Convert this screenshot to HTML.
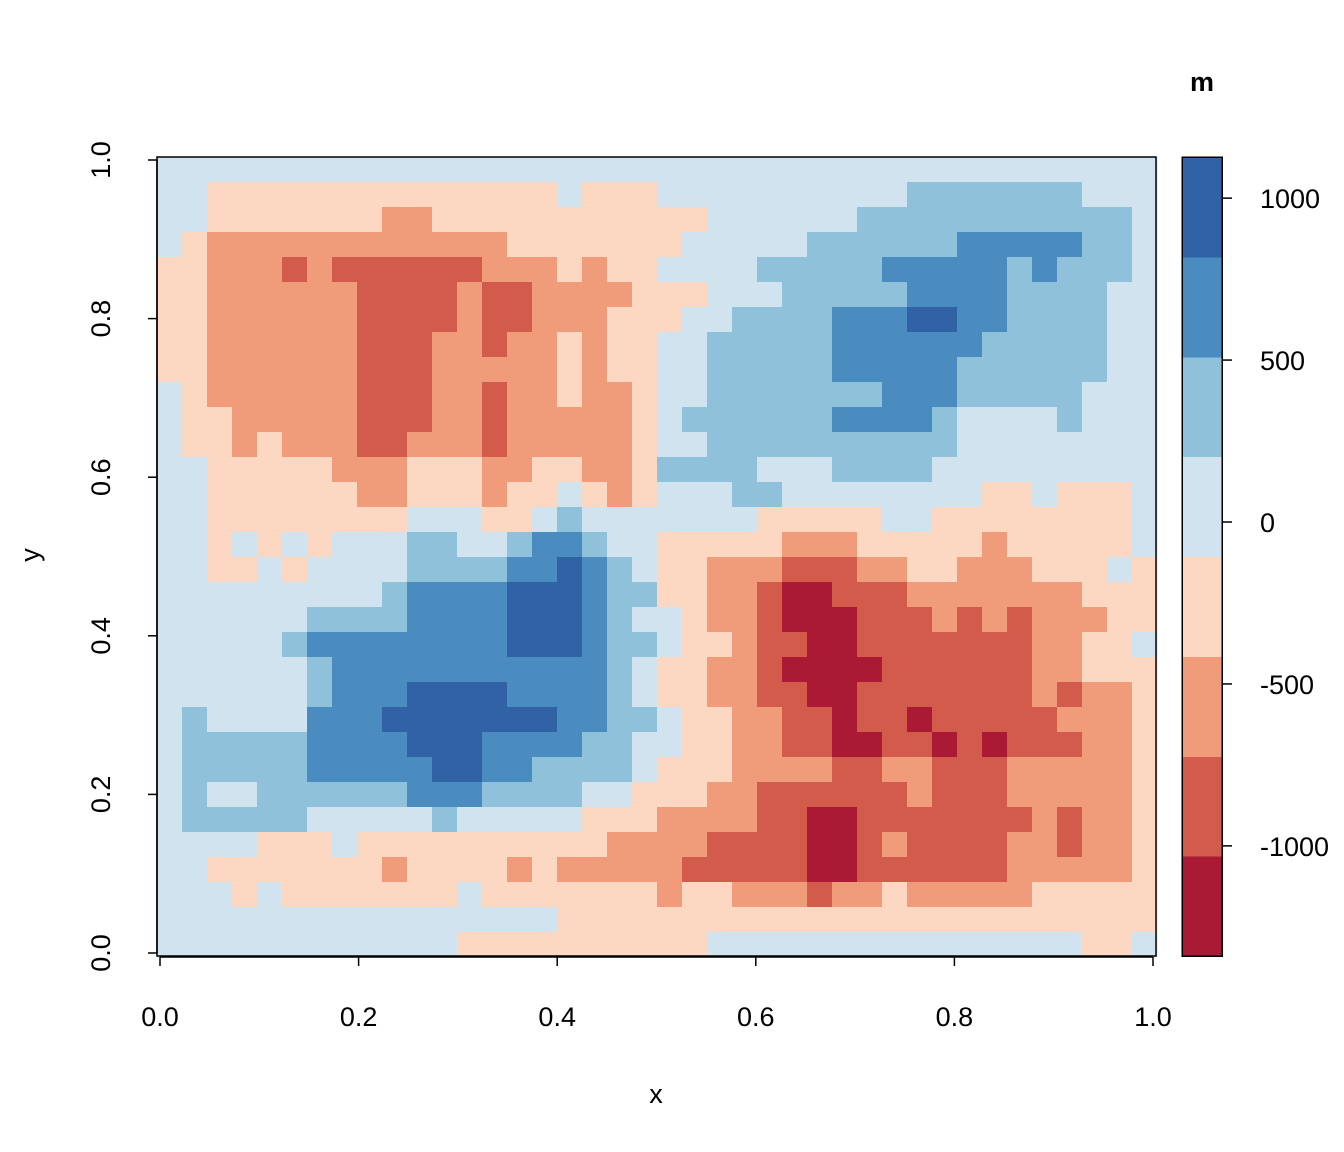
<!DOCTYPE html>
<html>
<head>
<meta charset="utf-8">
<style>
  html,body{margin:0;padding:0;background:#fff;}
  svg{display:block;font-family:"Liberation Sans",Arial,sans-serif;}
</style>
</head>
<body>
<svg id="chart" width="1344" height="1152" viewBox="0 0 1344 1152" xmlns="http://www.w3.org/2000/svg">
  <g id="cells" shape-rendering="crispEdges"></g>
  <rect x="157" y="157" width="999" height="799" fill="none" stroke="#000" stroke-width="1.5"/>
  <g id="xaxis"></g>
  <g id="yaxis"></g>
  <text x="656" y="1103" font-size="27" text-anchor="middle">x</text>
  <text x="39" y="555" font-size="27" text-anchor="middle" transform="rotate(-90 39 555)">y</text>
  <g id="legend" shape-rendering="crispEdges"></g>
  <g id="legendaxis"></g>
  <text x="1202" y="91" font-size="27" font-weight="bold" text-anchor="middle">m</text>
</svg>
<script>
// level palette (0 = most negative ... 7 = most positive)
const levelColors = ["#AB1A35","#D35B4C","#F09C7B","#FCD8C3","#D0E3EF","#90C1DB","#4A8CBF","#3162A6"];
// grid of level indices, rows from top (y=1) to bottom (y=0), columns from x=0 to x=1
const gridRows = [
"4444444444444444444444444444444444444444",
"4433333333333333433344444444445555555444",
"4433333332233333333333444444555555555554",
"4322222222222233333334444455555566666554",
"3322212111111222323344445555566666565554",
"3322222211112112222333444555556666555544",
"3322222211112112223334455556667766555544",
"3322222211122122323344555556666665555544",
"3322222211122222323344555556666655555544",
"4322222211122122322344555555566655555444",
"4332222211122122222345555556666544445444",
"4332322211222122222344555555555544444444",
"4433333222333223322355554445555444444444",
"4433333322333233432344455444444443343334",
"4433333333444334544444443333344333333334",
"4434343444554456654433333222333332333334",
"4433434444555566765433222111223322233343",
"4444444445666677765533221001112222222333",
"4444445555666677765443221000111212122233",
"4444456666666677765543321100111111122334",
"4444445666666666665433221000011111122333",
"4444445666777766665433221100111111121223",
"4544446667777777665543322110110111112223",
"4555556666777666655443322110011010111223",
"4555556666677665555433322221122111222223",
"4544555555666555544333221111112111222223",
"4555554444454444433322221100111111121223",
"4444333433333333332222111100121111221223",
"4433333332333323222221111100111111222223",
"4443433333334333333323322212232222233333",
"4444444444444444333333333333333333333333",
"4444444444443333333333444444444444444334"
];
const xTicks = [0, 0.2, 0.4, 0.6, 0.8, 1.0];
const xTickLabels = ["0.0","0.2","0.4","0.6","0.8","1.0"];
const yTicks = [0, 0.2, 0.4, 0.6, 0.8, 1.0];
const yTickLabels = ["0.0","0.2","0.4","0.6","0.8","1.0"];
const legendTicks = [1000, 500, 0, -500, -1000];
const legendTickLabels = ["1000","500","0","-500","-1000"];
const legendMin = -1340, legendMax = 1127;

const NS = "http://www.w3.org/2000/svg";
const nCols = gridRows[0].length, nRows = gridRows.length;
const plotL = 157, plotR = 1157, plotT = 157, plotB = 957;
function colX(c){ return plotL + c * (plotR - plotL) / nCols; }
function rowY(r){ return plotT + r * (plotB - plotT) / nRows; }
function xScale(v){ return 160 + v * 993; }
function yScale(v){ return 953 - v * 793; }
function lScale(v){ return 956 - (v - legendMin) / (legendMax - legendMin) * 799; }

const cells = document.getElementById("cells");
for (let r = 0; r < nRows; r++) {
  for (let c = 0; c < nCols; c++) {
    const lvl = +gridRows[r][c];
    const rect = document.createElementNS(NS, "rect");
    rect.setAttribute("x", colX(c));
    rect.setAttribute("y", rowY(r));
    rect.setAttribute("width", colX(c + 1) - colX(c) + 0.5);
    rect.setAttribute("height", rowY(r + 1) - rowY(r) + 0.5);
    rect.setAttribute("fill", levelColors[lvl]);
    
    
    cells.appendChild(rect);
  }
}

const xaxis = document.getElementById("xaxis");
const xl = document.createElementNS(NS, "line");
xl.setAttribute("x1", xScale(xTicks[0])); xl.setAttribute("x2", xScale(xTicks[xTicks.length-1]));
xl.setAttribute("y1", 957); xl.setAttribute("y2", 957);
xl.setAttribute("stroke", "#000"); xl.setAttribute("stroke-width", "1.5");


xaxis.appendChild(xl);
xTicks.forEach((v, i) => {
  const t = document.createElementNS(NS, "line");
  t.setAttribute("x1", xScale(v)); t.setAttribute("x2", xScale(v));
  t.setAttribute("y1", 957); t.setAttribute("y2", 966);
  t.setAttribute("stroke", "#000"); t.setAttribute("stroke-width", "1.5");
  
  
  xaxis.appendChild(t);
  const tx = document.createElementNS(NS, "text");
  tx.setAttribute("x", xScale(v)); tx.setAttribute("y", 1026);
  tx.setAttribute("font-size", "27"); tx.setAttribute("text-anchor", "middle");
  tx.textContent = xTickLabels[i];
  
  
  xaxis.appendChild(tx);
});

const yaxis = document.getElementById("yaxis");
const yl = document.createElementNS(NS, "line");
yl.setAttribute("x1", 157); yl.setAttribute("x2", 157);
yl.setAttribute("y1", yScale(yTicks[0])); yl.setAttribute("y2", yScale(yTicks[yTicks.length-1]));
yl.setAttribute("stroke", "#000"); yl.setAttribute("stroke-width", "1.5");


yaxis.appendChild(yl);
yTicks.forEach((v, i) => {
  const t = document.createElementNS(NS, "line");
  t.setAttribute("x1", 148); t.setAttribute("x2", 157);
  t.setAttribute("y1", yScale(v)); t.setAttribute("y2", yScale(v));
  t.setAttribute("stroke", "#000"); t.setAttribute("stroke-width", "1.5");
  
  
  yaxis.appendChild(t);
  const tx = document.createElementNS(NS, "text");
  const y = yScale(v);
  tx.setAttribute("x", 110); tx.setAttribute("y", y);
  tx.setAttribute("font-size", "27"); tx.setAttribute("text-anchor", "middle");
  tx.setAttribute("transform", "rotate(-90 110 " + y + ")");
  tx.textContent = yTickLabels[i];
  
  
  yaxis.appendChild(tx);
});

const legend = document.getElementById("legend");
const nLev = levelColors.length;
for (let i = 0; i < nLev; i++) {
  const v0 = legendMin + i * (legendMax - legendMin) / nLev;
  const v1 = legendMin + (i + 1) * (legendMax - legendMin) / nLev;
  const rect = document.createElementNS(NS, "rect");
  rect.setAttribute("x", 1182); rect.setAttribute("width", 40);
  rect.setAttribute("y", lScale(v1)); rect.setAttribute("height", lScale(v0) - lScale(v1) + 0.5);
  rect.setAttribute("fill", levelColors[i]);
  
  
  legend.appendChild(rect);
}
const lframe = document.createElementNS(NS, "rect");
lframe.setAttribute("x", 1182); lframe.setAttribute("y", 157);
lframe.setAttribute("width", 40); lframe.setAttribute("height", 799);
lframe.setAttribute("fill", "none"); lframe.setAttribute("stroke", "#000"); lframe.setAttribute("stroke-width", "1.5");


legend.appendChild(lframe);

const legendaxis = document.getElementById("legendaxis");
legendTicks.forEach((v, i) => {
  const y = lScale(v);
  const t = document.createElementNS(NS, "line");
  t.setAttribute("x1", 1222); t.setAttribute("x2", 1232);
  t.setAttribute("y1", y); t.setAttribute("y2", y);
  t.setAttribute("stroke", "#000"); t.setAttribute("stroke-width", "1.5");
  
  
  legendaxis.appendChild(t);
  const tx = document.createElementNS(NS, "text");
  tx.setAttribute("x", 1260); tx.setAttribute("y", y + 10);
  tx.setAttribute("font-size", "27");
  tx.textContent = legendTickLabels[i];
  
  
  legendaxis.appendChild(tx);
});
</script>
</body>
</html>
